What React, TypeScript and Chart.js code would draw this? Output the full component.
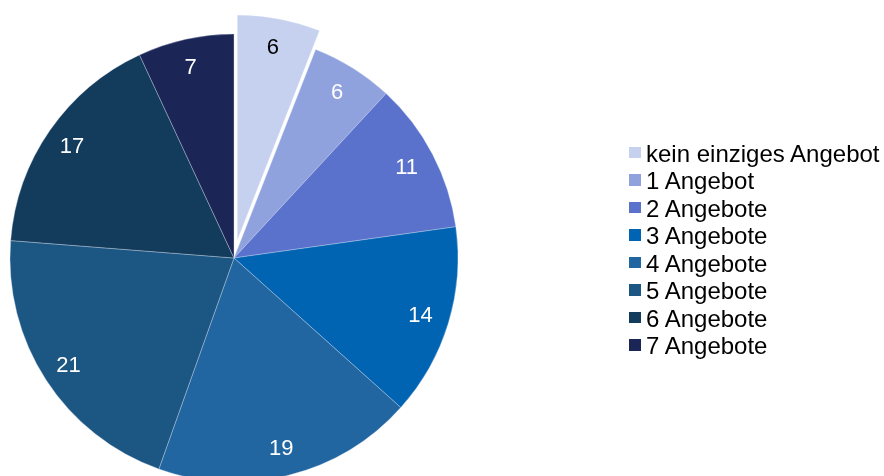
import React, { useEffect, useRef } from "react";
import { Chart, registerables } from "chart.js";

Chart.register(...registerables);

const categories = [
  "kein einziges Angebot",
  "1 Angebot",
  "2 Angebote",
  "3 Angebote",
  "4 Angebote",
  "5 Angebote",
  "6 Angebote",
  "7 Angebote",
];
const values = [6, 6, 11, 14, 19, 21, 17, 7];
const colors = [
  "#C6D0EF",
  "#8FA2DD",
  "#5B72CD",
  "#0064B3",
  "#2166A1",
  "#1C5682",
  "#133B5B",
  "#1B2656",
];
const labelColors = ["#000000", "#FFFFFF", "#FFFFFF", "#FFFFFF", "#FFFFFF", "#FFFFFF", "#FFFFFF", "#FFFFFF"];
const explodeIndex = 0;
const explodeDistance = 19;

const FONT = "'Liberation Sans', Arial, Helvetica, sans-serif";

const explodePlugin = {
  id: "explodeSlice",
  afterDatasetsUpdate(chart: any) {
    const meta = chart.getDatasetMeta(0);
    const arc = meta.data[explodeIndex];
    if (!arc) return;
    const mid = (arc.startAngle + arc.endAngle) / 2;
    arc.x += Math.cos(mid) * explodeDistance;
    arc.y += Math.sin(mid) * explodeDistance;
  },
};

const labelPlugin = {
  id: "sliceLabels",
  afterDatasetsDraw(chart: any) {
    const ctx = chart.ctx;
    const meta = chart.getDatasetMeta(0);
    ctx.save();
    ctx.font = `22px ${FONT}`;
    ctx.textAlign = "center";
    ctx.textBaseline = "middle";
    meta.data.forEach((arc: any, i: number) => {
      const mid = (arc.startAngle + arc.endAngle) / 2;
      const r = arc.outerRadius * 0.875;
      const x = arc.x + Math.cos(mid) * r;
      const y = arc.y + Math.sin(mid) * r;
      ctx.fillStyle = labelColors[i];
      ctx.fillText(String(values[i]), x - 1, y + 1);
    });
    ctx.restore();
  },
};

export default function App() {
  const canvasRef = useRef<HTMLCanvasElement | null>(null);

  useEffect(() => {
    document.body.style.margin = "0";
    const canvas = canvasRef.current;
    if (!canvas) return;
    const chart = new Chart(canvas, {
      type: "pie",
      data: {
        labels: categories,
        datasets: [
          {
            data: values,
            backgroundColor: colors,
            borderColor: "rgba(210,220,240,0.45)",
            borderWidth: 0.8,
          },
        ],
      },
      options: {
        responsive: false,
        animation: false,
        devicePixelRatio: 1,
        radius: 224,
        layout: { padding: { left: 10, right: 426, top: 40, bottom: 0 } },
        plugins: {
          legend: { display: false },
          tooltip: { enabled: false },
        },
      },
      plugins: [explodePlugin, labelPlugin],
    });
    return () => chart.destroy();
  }, []);

  return (
    <div style={{ position: "absolute", left: 0, top: 0, width: 884, height: 476, background: "#fff", overflow: "hidden" }}>
      <canvas ref={canvasRef} width={884} height={476} style={{ width: 884, height: 476, display: "block" }} />
      <div style={{ position: "absolute", left: 629, top: 139.6, fontFamily: FONT, fontSize: 24, color: "#000" }}>
        {categories.map((c, i) => (
          <div key={c} style={{ position: "relative", height: 27.5, lineHeight: "27.5px", whiteSpace: "nowrap", paddingLeft: 17 }}>
            <span style={{ position: "absolute", left: 0, top: 7.1, width: 11.7, height: 11.7, background: colors[i] }} />
            {c}
          </div>
        ))}
      </div>
    </div>
  );
}
